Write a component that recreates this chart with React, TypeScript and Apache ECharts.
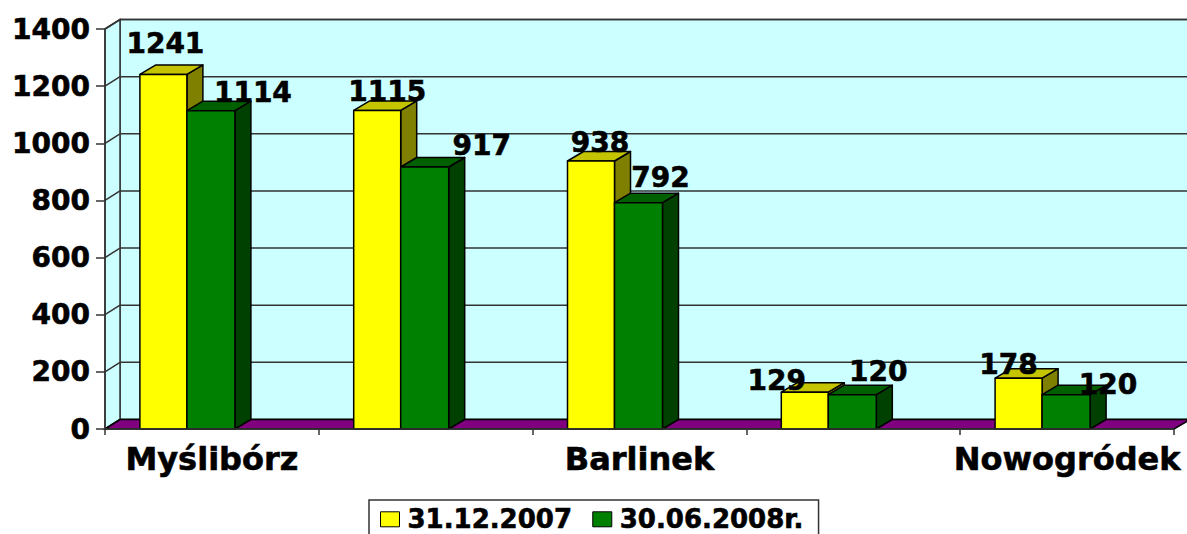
import React, { useEffect, useRef } from "react";
import * as echarts from "echarts";

const categories = ["Myślibórz", "", "Barlinek", "", "Nowogródek"];
const seriesNames = ["31.12.2007", "30.06.2008r."];
const values2007 = [1241, 1115, 938, 129, 178];
const values2008 = [1114, 917, 792, 120, 120];
const yTicks = [0, 200, 400, 600, 800, 1000, 1200, 1400];

// label placement relative to the top of each bar's front face
const labelShift2007 = [[2, -31], [10, -19], [9, -19], [-28, -12], [-10, -14]];
const labelShift2008 = [[42, -18], [57, -22], [22, -25], [26, -23], [42, -10]];

const DX = 16;
const DY = -9.5;
const FONT = "DejaVu Sans";
const LINE = "#333333";
const HEAVY = { textBorderColor: "#000000", textBorderWidth: 0.6 };

function makeBarRender(from: number, to: number, front: string, top: string, side: string, shifts: number[][]) {
  return (params: any, api: any) => {
    const i = api.value(0);
    const v = api.value(1);
    const band = api.size([1, 0])[0];
    const c0 = api.coord([i, 0]);
    const c1 = api.coord([i, v]);
    const x0 = c0[0] + from * band;
    const x1 = c0[0] + to * band;
    const yb = c0[1];
    const yt = c1[1];
    const stroke = { stroke: "#000000", lineWidth: 1.5, lineJoin: "round" };
    const s = shifts[params.dataIndex];
    return {
      type: "group",
      children: [
        {
          type: "polygon",
          shape: { points: [[x1, yb], [x1 + DX, yb + DY], [x1 + DX, yt + DY], [x1, yt]] },
          style: { fill: side, ...stroke },
        },
        {
          type: "polygon",
          shape: { points: [[x0, yt], [x1, yt], [x1 + DX, yt + DY], [x0 + DX, yt + DY]] },
          style: { fill: top, ...stroke },
        },
        {
          type: "rect",
          shape: { x: x0, y: yt, width: x1 - x0, height: yb - yt },
          style: { fill: front, ...stroke },
        },
        {
          type: "text",
          z2: 100,
          style: {
            text: String(v),
            x: (x0 + x1) / 2 + s[0],
            y: yt + s[1],
            align: "center",
            verticalAlign: "middle",
            fill: "#000000",
            fontFamily: FONT,
            fontWeight: "bold",
            fontSize: 28,
            stroke: "#000000",
            lineWidth: 0.6,
          },
        },
      ],
    };
  };
}

function renderWalls(params: any, api: any) {
  const { x, width } = params.coordSys;
  const right = x + width;
  const y0 = api.coord([0, 0])[1];
  const yMax = api.coord([0, yTicks[yTicks.length - 1]])[1];
  const line = { stroke: LINE, lineWidth: 1.5 };
  const children: any[] = [
    {
      type: "polygon",
      shape: { points: [[x + DX - 1, yMax + DY], [right + DX, yMax + DY], [right + DX, y0 + DY], [x + DX - 1, y0 + DY]] },
      style: { fill: "#CCFFFF", ...line },
    },
    {
      type: "polygon",
      shape: { points: [[x, y0], [x + DX - 1, y0 + DY], [x + DX - 1, yMax + DY], [x, yMax]] },
      style: { fill: "#CCFFFF", ...line },
    },
  ];
  yTicks.forEach((t) => {
    const y = api.coord([0, t])[1];
    children.push({
      type: "line",
      shape: { x1: x, y1: y, x2: x + DX - 1, y2: y + DY },
      style: line,
    });
    children.push({
      type: "line",
      shape: { x1: x + DX - 1, y1: y + DY, x2: right + DX, y2: y + DY },
      style: line,
    });
  });
  children.push({
    type: "polygon",
    shape: { points: [[x, y0], [right, y0], [right + DX, y0 + DY], [x + DX - 1, y0 + DY]] },
    style: { fill: "#800080", stroke: "#000000", lineWidth: 1.5 },
  });
  return { type: "group", children };
}

export default function App() {
  const ref = useRef<HTMLDivElement>(null);
  useEffect(() => {
    const chart = echarts.init(ref.current!, null, { renderer: "svg" });
    chart.setOption({
      animation: false,
      backgroundColor: "#FFFFFF",
      grid: { left: 105, right: 13, top: 29, bottom: 105 },
      legend: {
        left: 369,
        top: 500,
        padding: [6, 15, 12, 11],
        itemWidth: 19,
        itemHeight: 15,
        itemGap: 20,
        backgroundColor: "#FFFFFF",
        borderColor: "#333333",
        borderWidth: 1.5,
        borderRadius: 0,
        selectedMode: false,
        textStyle: { fontFamily: FONT, fontWeight: "bold", fontSize: 26, color: "#000000", padding: [0, 0, 0, 3], ...HEAVY },
        data: [
          { name: seriesNames[0], icon: "rect", itemStyle: { color: "#FFFF00", borderColor: "#000000", borderWidth: 1 } },
          { name: seriesNames[1], icon: "rect", itemStyle: { color: "#008000", borderColor: "#000000", borderWidth: 1 } },
        ],
      },
      xAxis: {
        type: "category",
        data: categories,
        z: 10,
        axisLine: { lineStyle: { color: LINE, width: 1.5 } },
        axisTick: { show: true, alignWithLabel: false, length: 6, lineStyle: { color: LINE, width: 1.5 } },
        axisLabel: { interval: 0, margin: 14, color: "#000000", fontFamily: FONT, fontWeight: "bold", fontSize: 32, ...HEAVY },
      },
      yAxis: {
        type: "value",
        min: 0,
        max: 1400,
        interval: 200,
        z: 10,
        splitLine: { show: false },
        axisLine: { show: true, lineStyle: { color: LINE, width: 1.5 } },
        axisTick: { show: true, length: 9, lineStyle: { color: LINE, width: 1.5 } },
        axisLabel: {
          margin: 15,
          color: "#000000",
          fontFamily: FONT,
          fontWeight: "bold",
          fontSize: 28,
          formatter: (v: number) => String(v),
          ...HEAVY,
        },
      },
      series: [
        {
          type: "custom",
          name: "walls",
          z: 1,
          silent: true,
          renderItem: renderWalls,
          encode: { x: 0, y: 1 },
          data: [[0, 0]],
        },
        {
          type: "custom",
          name: seriesNames[0],
          z: 2,
          renderItem: makeBarRender(-72 / 213.8, -25 / 213.8, "#FFFF00", "#C4C400", "#808000", labelShift2007),
          encode: { x: 0, y: 1 },
          itemStyle: { color: "#FFFF00" },
          data: values2007.map((v, i) => [i, v]),
        },
        {
          type: "custom",
          name: seriesNames[1],
          z: 2,
          renderItem: makeBarRender(-25 / 213.8, 23 / 213.8, "#008000", "#006000", "#004000", labelShift2008),
          encode: { x: 0, y: 1 },
          itemStyle: { color: "#008000" },
          data: values2008.map((v, i) => [i, v]),
        },
      ],
    });
    return () => chart.dispose();
  }, []);
  return <div ref={ref} style={{ position: "fixed", left: 0, top: 0, width: 1187, height: 534 }} />;
}
